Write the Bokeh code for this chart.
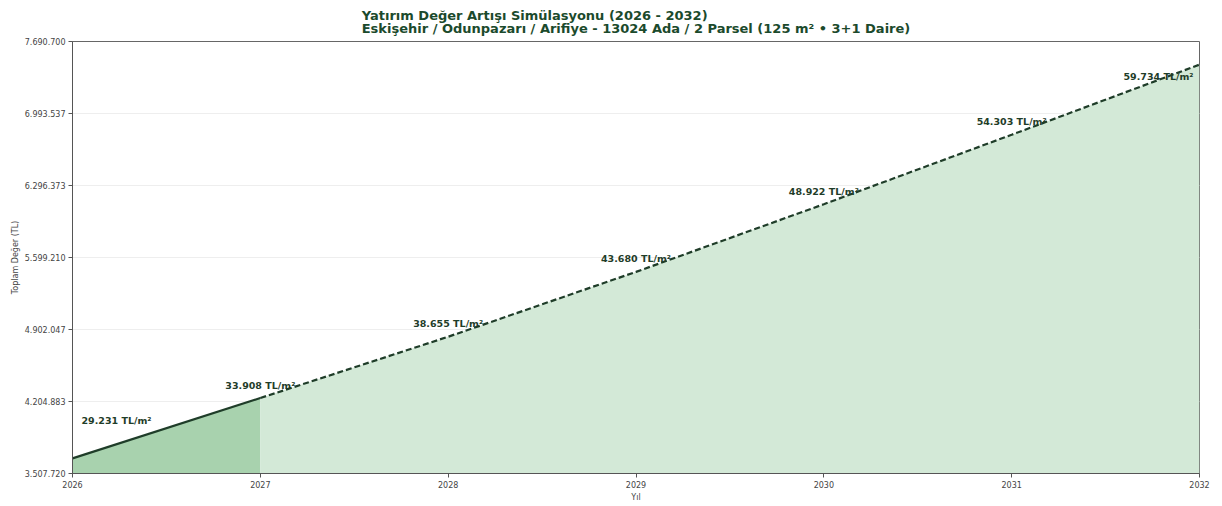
from bokeh.plotting import figure
from bokeh.models import FixedTicker, CustomJSTickFormatter, Range1d, ColumnDataSource
from bokeh.core.properties import value
from bokeh.embed import file_html
from bokeh.resources import INLINE

# ---- data ----
years = [2026, 2027, 2028, 2029, 2030, 2031, 2032]
price_per_m2 = [29231, 33908, 38655, 43680, 48922, 54303, 59734]
area_m2 = 125
total_value = [p * area_m2 for p in price_per_m2]
price_labels = ["29.231 TL/m²", "33.908 TL/m²", "38.655 TL/m²", "43.680 TL/m²",
                "48.922 TL/m²", "54.303 TL/m²", "59.734 TL/m²"]
y_ticks = [3507720, 4204883, 4902047, 5599210, 6296373, 6993537, 7690700]

title_text = ("Yatırım Değer Artışı Simülasyonu (2026 - 2032)\n"
              "Eskişehir / Odunpazarı / Arifiye - 13024 Ada / 2 Parsel (125 m² • 3+1 Daire)")

FONT = "DejaVu Sans"
DARK = "#1f3d29"

p = figure(width=1214, height=504, output_backend="svg", toolbar_location=None,
           x_range=Range1d(years[0], years[-1]), y_range=Range1d(y_ticks[0], y_ticks[-1]),
           min_border_left=72, min_border_right=15, min_border_top=0, min_border_bottom=0)

p.title.text = title_text
p.title.align = "center"
p.title.text_font = FONT
p.title.text_font_size = "13px"
p.title.text_font_style = "bold"
p.title.text_color = "#1b4a2c"
p.title.text_line_height = 0.85
p.title.standoff = 11
p.title.offset = -8

# fills
src_hist = ColumnDataSource(dict(x=years[:2], y=total_value[:2], base=[y_ticks[0]] * 2))
src_proj = ColumnDataSource(dict(x=years[1:], y=total_value[1:], base=[y_ticks[0]] * 6))
p.varea(x="x", y1="base", y2="y", source=src_hist, fill_color="#a8d2ae")
p.varea(x="x", y1="base", y2="y", source=src_proj, fill_color="#d3e9d7")

# labels
n = len(years)
x_off = [0] * n
y_off = [-13] * n
x_off[0] = 44
y_off[0] = -38
x_off[-1] = -41
y_off[-1] = 12
lab_src = ColumnDataSource(dict(x=years, y=total_value, t=price_labels, xo=x_off, yo=y_off))
p.text(x="x", y="y", text="t", source=lab_src, x_offset="xo", y_offset="yo",
       text_align="center", text_baseline="middle", text_font=value(FONT),
       text_font_size="9.5px", text_font_style="bold", text_color=DARK)

# lines
p.line(years[:2], total_value[:2], line_color=DARK, line_width=2.2)
p.line(years[1:], total_value[1:], line_color=DARK, line_width=2.2, line_dash="6 3")

# axes
p.xaxis.ticker = FixedTicker(ticks=years)
p.yaxis.ticker = FixedTicker(ticks=y_ticks)
p.yaxis.formatter = CustomJSTickFormatter(code="""
    return Math.round(tick).toString().replace(/\\B(?=(\\d{3})+(?!\\d))/g, ".");
""")
for ax in (p.xaxis[0], p.yaxis[0]):
    ax.major_label_text_font = FONT
    ax.major_label_text_font_size = "8px"
    ax.major_label_text_color = "#444444"
    ax.axis_line_color = "#555555"
    ax.major_tick_line_color = "#555555"
    ax.major_tick_out = 4
    ax.major_tick_in = 0
    ax.minor_tick_line_color = None
    ax.axis_label_text_font = FONT
    ax.axis_label_text_font_size = "8px"
    ax.axis_label_text_font_style = "normal"
    ax.axis_label_text_color = "#444444"
    ax.axis_label_standoff = 2
    ax.major_label_standoff = 3
p.xaxis.axis_label = "Yıl"
p.yaxis.axis_label = "Toplam Değer (TL)"

p.xgrid.grid_line_color = None
p.ygrid.grid_line_color = "#eeeeee"
p.outline_line_color = "#666666"
p.outline_line_width = 1

open("out.html", "w").write(file_html(p, INLINE))
